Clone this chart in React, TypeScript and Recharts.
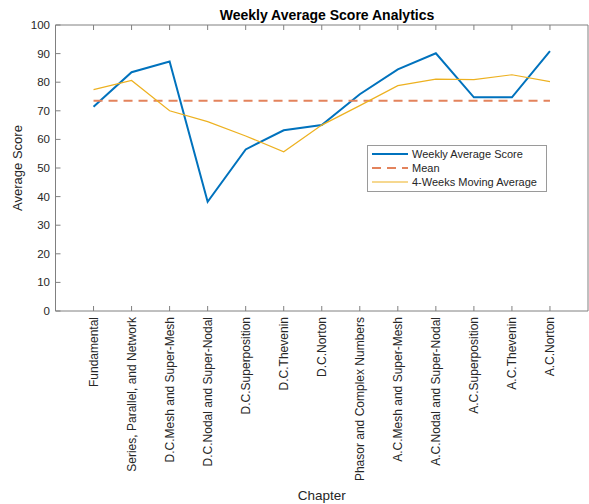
import { LineChart, Line, XAxis, YAxis, Legend } from 'recharts'

const chapters = [
  'Fundamental',
  'Series, Parallel, and Network',
  'D.C.Mesh and Super-Mesh',
  'D.C.Nodal and Super-Nodal',
  'D.C.Superposition',
  'D.C.Thevenin',
  'D.C.Norton',
  'Phasor and Complex Numbers',
  'A.C.Mesh and Super-Mesh',
  'A.C.Nodal and Super-Nodal',
  'A.C.Superposition',
  'A.C.Thevenin',
  'A.C.Norton',
]

const weeklyScore = [71.4, 83.5, 87.2, 38.2, 56.5, 63.2, 65.0, 75.8, 84.5, 90.1, 74.7, 74.7, 90.9]
const movingAverage = [77.4, 80.6, 70.0, 66.2, 61.2, 55.7, 65.0, 71.8, 78.8, 81.1, 80.9, 82.6, 80.2]
const yTicks = [0, 10, 20, 30, 40, 50, 60, 70, 80, 90, 100]

const meanScore = weeklyScore.reduce((a, b) => a + b, 0) / weeklyScore.length

const chartData = chapters.map((name, i) => ({
  idx: i + 1,
  name,
  weekly: weeklyScore[i],
  mean: meanScore,
  moving: movingAverage[i],
}))

const xTicks = chartData.map((d) => d.idx)

const FONT = 'Liberation Sans, Arial, Helvetica, sans-serif'
const AXIS = '#808080'
const TEXT = '#262626'

const BLUE = '#0072BD'
const ORANGE = '#E3835C'
const YELLOW = '#EDB120'

function ChapterTick(props: any) {
  const { x, y, payload } = props
  const label = chapters[payload.value - 1] ?? ''
  return (
    <text
      x={x}
      y={y}
      transform={`rotate(-90, ${x}, ${y})`}
      textAnchor="end"
      dy="0.35em"
      fontSize={12}
      fontFamily={FONT}
      fill={TEXT}
    >
      {label}
    </text>
  )
}

// MATLAB-like legend box
function LegendBox() {
  const rows = [
    { label: 'Weekly Average Score', color: BLUE, width: 2, dash: undefined },
    { label: 'Mean', color: ORANGE, width: 2, dash: '9 6' },
    { label: '4-Weeks Moving Average', color: YELLOW, width: 1, dash: undefined },
  ]
  return (
    <div
      style={{
        border: '1px solid #9a9a9a',
        background: '#fff',
        padding: '1px 4px 2px 4px',
        width: 170,
        fontFamily: FONT,
        fontSize: 11,
        color: TEXT,
      }}
    >
      {rows.map((r) => (
        <div key={r.label} style={{ display: 'flex', alignItems: 'center', height: 14 }}>
          <svg width={36} height={6} style={{ marginRight: 4 }}>
            <line x1={0} x2={36} y1={3} y2={3} stroke={r.color} strokeWidth={r.width} strokeDasharray={r.dash} />
          </svg>
          <span>{r.label}</span>
        </div>
      ))}
    </div>
  )
}

export default function App() {
  return (
    <div style={{ position: 'absolute', left: 0, top: 0, width: 589, height: 504, background: '#fff' }}>
      <LineChart width={589} height={504} data={chartData} margin={{ top: 24, right: 0, left: 0, bottom: 0 }}>
        <XAxis
          dataKey="idx"
          type="number"
          domain={[0, 14]}
          ticks={xTicks}
          interval={0}
          height={193}
          tickSize={-5}
          tickMargin={11}
          stroke={AXIS}
          tick={<ChapterTick />}
          label={{ value: 'Chapter', position: 'insideBottom', offset: 4.5, fontSize: 13.5, fontFamily: FONT, fill: TEXT }}
        />
        <XAxis
          xAxisId="top"
          dataKey="idx"
          type="number"
          orientation="top"
          domain={[0, 14]}
          ticks={xTicks}
          interval={0}
          height={1}
          tickSize={-5}
          stroke={AXIS}
          tick={() => <g />}
        />
        <YAxis
          domain={[0, 100]}
          ticks={yTicks}
          interval={0}
          width={55.5}
          tickSize={-5}
          tickMargin={10.5}
          stroke={AXIS}
          tick={{ fontSize: 11.5, fontFamily: FONT, fill: TEXT }}
          label={{
            value: 'Average Score',
            angle: -90,
            position: 'insideLeft',
            offset: 17,
            style: { textAnchor: 'middle', fontSize: 13, fontFamily: FONT, fill: TEXT },
          }}
        />
        <YAxis
          yAxisId="right"
          orientation="right"
          domain={[0, 100]}
          ticks={yTicks}
          interval={0}
          width={1}
          tickSize={-5}
          stroke={AXIS}
          tick={() => <g />}
        />
        <Legend
          layout="vertical"
          verticalAlign="middle"
          align="center"
          wrapperStyle={{ position: 'absolute', left: 367, top: 145, width: 'auto', height: 'auto' }}
          content={() => <LegendBox />}
        />
        <Line dataKey="weekly" stroke={BLUE} strokeWidth={2} dot={false} isAnimationActive={false} />
        <Line dataKey="mean" stroke={ORANGE} strokeWidth={2} strokeDasharray="9 6" dot={false} isAnimationActive={false} />
        <Line dataKey="moving" stroke={YELLOW} strokeWidth={1.2} dot={false} isAnimationActive={false} />
        <text x={327} y={20} textAnchor="middle" fontSize={14} fontWeight="bold" fontFamily={FONT} fill="#000">
          Weekly Average Score Analytics
        </text>
      </LineChart>
    </div>
  )
}
